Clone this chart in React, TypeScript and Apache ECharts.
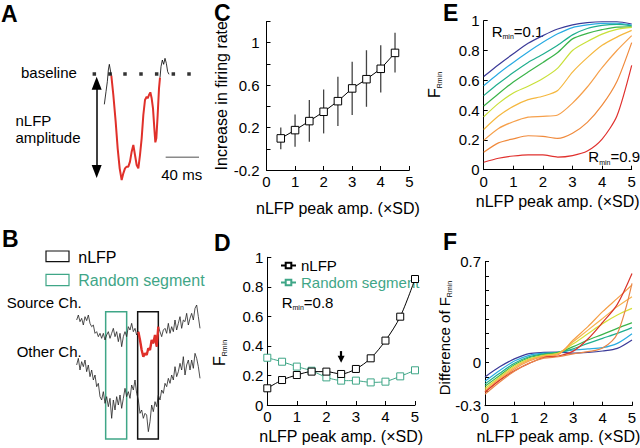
import React, { useEffect, useRef } from 'react';
import * as echarts from 'echarts';

const FONT = '"Liberation Sans", Arial, Helvetica, sans-serif';
const GREEN = '#3fa687';
const RED = '#e0302a';

// ---------- Panel A (time in ms, amplitude in a.u., baseline = 0) ----------
const aPreT = [23.2, 25.2, 26.8, 28, 29.2, 30.4, 31.6];
const aPreV = [-91, -53, -23, 12, 29, 12, -5];
const aNlfpT = [31.6, 34, 36.8, 39.2, 41.6, 44, 46, 48, 50, 52, 54, 56, 58, 60, 62, 64, 66, 68, 70, 72, 74, 75.2, 76.8, 78.4, 80, 81.6, 83.2, 84.4, 85.6, 87.2, 88.8, 90];
const aNlfpV = [-5, -63, -143, -223, -283, -318, -298, -283, -278, -278, -263, -233, -213, -243, -273, -283, -243, -193, -123, -78, -68, -73, -63, -55, -73, -103, -163, -205, -193, -123, -43, -11];
const aPostT = [90, 91.2, 92.8, 94.4, 96, 97.6, 99.2, 100.8];
const aPostV = [-11, 22, 42, 29, 47, 32, 7, -1];
const aBaselineT = [11.2, 30, 48, 67.2, 86, 106, 124.8];
const aScaleBar = [[96.8, -250], [136.8, -250]];
const aArrowT = 14;
const aArrowEnds = [-27.5, -292.5];

// ---------- Panel B (sample index, negativity in a.u.) ----------
const bFirstSample = 4;
const bSource = [60, 45, 65, 55, 75, 50, 62, 45, 70, 80, 75, 100, 95, 110, 100, 115, 100, 120, 105, 95, 115, 100, 85, 110, 95, 125, 100, 140, 110, 95, 110, 80, 90, 70, 95, 85, 105, 95, 120, 150, 170, 160, 165, 145, 150, 120, 130, 105, 140, 80, 95, 110, 90, 85, 100, 70, 100, 80, 95, 60, 90, 70, 50, 85, 60, 65, 40, 75, 55, 40, 60, 25, 15, 50, 85];
const bOther = [195, 175, 210, 185, 200, 180, 215, 195, 230, 210, 240, 225, 260, 250, 290, 300, 275, 310, 290, 320, 295, 355, 300, 330, 290, 315, 285, 325, 295, 265, 290, 275, 295, 255, 270, 240, 280, 300, 340, 330, 355, 340, 345, 395, 365, 315, 335, 305, 320, 285, 300, 270, 280, 250, 260, 235, 250, 225, 240, 200, 230, 215, 190, 210, 170, 225, 195, 180, 210, 180, 205, 160, 175, 200, 235];
const bRedFrom = 37;
const bRedTo = 49;
const bRandomBox = [21.4, 34, 35, 417];
const bNlfpBox = [40.6, 53, 35, 417];

// ---------- Panel C ----------
const cX = [0.5, 1, 1.5, 2, 2.5, 3, 3.5, 4, 4.5];
const cMean = [0.098, 0.176, 0.261, 0.349, 0.449, 0.569, 0.656, 0.754, 0.904];
const cLo = [-0.005, 0.02, 0.067, 0.145, 0.214, 0.318, 0.396, 0.531, 0.719];
const cHi = [0.2, 0.324, 0.459, 0.559, 0.678, 0.82, 0.929, 0.976, 1.093];
const cYLabels = [-0.2, 0.2, 0.6, 1];

// ---------- Panel D ----------
const dX = [0, 0.5, 1, 1.5, 2, 2.5, 3, 3.5, 4, 4.5, 5];
const dNlfp = [0.113, 0.169, 0.203, 0.226, 0.226, 0.21, 0.244, 0.316, 0.436, 0.598, 0.853];
const dRandom = [0.32, 0.293, 0.26, 0.232, 0.187, 0.165, 0.165, 0.153, 0.158, 0.194, 0.235];
const dArrow = [2.5, 0.365, 0.31];

// ---------- Panel E ----------
const eX = [0, 0.5, 1, 1.5, 2, 2.5, 3, 3.5, 4, 4.5, 5];
const eColors = ['#3b3a98', '#29abe2', '#1fae8e', '#3bb44a', '#c9e03a', '#f5b840', '#f6a04b', '#f08a3c', '#e0312e'];
const eR01 = [0.625, 0.705, 0.778, 0.848, 0.9, 0.944, 0.972, 0.987, 0.993, 0.993, 0.978];
const eR02 = [0.563, 0.645, 0.72, 0.79, 0.855, 0.912, 0.954, 0.972, 0.982, 0.983, 0.97];
const eR03 = [0.497, 0.578, 0.652, 0.72, 0.775, 0.835, 0.905, 0.948, 0.968, 0.975, 0.965];
const eR04 = [0.427, 0.51, 0.588, 0.655, 0.72, 0.787, 0.878, 0.915, 0.94, 0.957, 0.958];
const eR05 = [0.355, 0.445, 0.515, 0.56, 0.612, 0.682, 0.8, 0.86, 0.91, 0.942, 0.955];
const eR06 = [0.27, 0.36, 0.425, 0.47, 0.493, 0.532, 0.655, 0.752, 0.835, 0.89, 0.935];
const eR07 = [0.197, 0.277, 0.322, 0.353, 0.358, 0.367, 0.447, 0.555, 0.685, 0.8, 0.9];
const eR08 = [0.117, 0.18, 0.207, 0.228, 0.224, 0.21, 0.245, 0.318, 0.433, 0.592, 0.853];
const eR09 = [0.05, 0.077, 0.092, 0.1, 0.099, 0.085, 0.095, 0.125, 0.205, 0.36, 0.7];

// ---------- Panel F ----------
const fX = [0, 0.5, 1, 1.5, 2, 2.5, 3, 3.5, 4, 4.5, 5];
const fColors = ['#3b3a98', '#29abe2', '#1fae8e', '#3bb44a', '#d6e03a', '#f7b24d', '#f59e45', '#d9342b', '#e8874a'];
const fL1 = [-0.1, -0.03, 0.025, 0.062, 0.07, 0.072, 0.065, 0.07, 0.08, 0.098, 0.156];
const fL2 = [-0.13, -0.055, 0.01, 0.05, 0.065, 0.07, 0.087, 0.094, 0.103, 0.133, 0.2];
const fL3 = [-0.15, -0.075, -0.005, 0.04, 0.06, 0.07, 0.095, 0.133, 0.168, 0.202, 0.242];
const fL4 = [-0.165, -0.09, -0.015, 0.033, 0.055, 0.07, 0.11, 0.156, 0.195, 0.237, 0.276];
const fL5 = [-0.18, -0.1, -0.025, 0.025, 0.05, 0.065, 0.13, 0.2, 0.27, 0.33, 0.376];
const fL6 = [-0.195, -0.11, -0.035, 0.018, 0.045, 0.062, 0.144, 0.225, 0.306, 0.388, 0.457];
const fL7 = [-0.205, -0.12, -0.045, 0.01, 0.04, 0.055, 0.156, 0.249, 0.353, 0.445, 0.538];
const fL8 = [-0.207, -0.124, -0.057, -0.006, 0.035, 0.045, 0.079, 0.163, 0.278, 0.404, 0.618];
const fL9 = [-0.22, -0.135, -0.06, -0.005, 0.03, 0.04, 0.06, 0.075, 0.1, 0.2, 0.55];
const fYLabels = [-0.3, 0, 0.7];

const zip = (xs: number[], ys: number[]) => xs.map((x, i) => [x, ys[i]]);

function axis(gi: number, min: number, max: number, interval: number, extra: any = {}) {
  const base: any = {
    type: 'value', gridIndex: gi, min, max, interval,
    axisLine: { show: true, onZero: false, lineStyle: { color: '#000', width: 1 } },
    axisTick: { show: true, inside: true, length: 4, lineStyle: { color: '#000', width: 1 } },
    axisLabel: { show: true, color: '#000', fontSize: 15, fontFamily: FONT, margin: 4 },
    splitLine: { show: false },
    nameTextStyle: { color: '#000', fontSize: 16, fontFamily: FONT },
  };
  const out = { ...base, ...extra };
  if (extra.axisLabel) out.axisLabel = { ...base.axisLabel, ...extra.axisLabel };
  return out;
}
const hidden = (gi: number, min: number, max: number, extra: any = {}) => ({ type: 'value', gridIndex: gi, min, max, show: false, ...extra });
const onlyLabels = (list: number[]) => (v: number) => {
  const r = Math.round(v * 10);
  return list.some((l) => Math.round(l * 10) === r) ? String(r / 10) : '';
};

const XNAME = 'nLFP peak amp. (×SD)';

function buildOption(): any {
  const grid = [
    { left: 85, top: 55, width: 120, height: 130 },
    { left: 70, top: 300, width: 136, height: 140 },
    { left: 266.5, top: 21.5, width: 142.8, height: 148.5 },
    { left: 267.3, top: 257.3, width: 147.7, height: 147.7 },
    { left: 483.7, top: 20.7, width: 148, height: 149 },
    { left: 485, top: 261.7, width: 147, height: 144 },
  ].map((g) => ({ ...g, outerBoundsMode: 'none', containLabel: false }));

  const xAxis = [
    hidden(0, 0, 144),
    hidden(1, 0, 81.6),
    axis(2, 0, 5, 1, { name: XNAME, nameLocation: 'middle', nameGap: 30 }),
    axis(3, 0, 5, 1, { name: XNAME, nameLocation: 'middle', nameGap: 23 }),
    axis(4, 0, 5, 1, { name: XNAME, nameLocation: 'middle', nameGap: 24 }),
    axis(5, 0, 5, 1, { name: XNAME, nameLocation: 'middle', nameGap: 23 }),
  ];
  const yAxis = [
    hidden(0, -333, 57),
    hidden(1, 0, 420, { inverse: true }),
    axis(2, -0.2, 1.2, 0.2, {
      name: 'Increase in firing rate', nameLocation: 'middle', nameGap: 31, nameRotate: 90,
      axisLabel: { margin: 7, formatter: onlyLabels(cYLabels) },
    }),
    axis(3, 0, 1, 0.2),
    axis(4, 0, 1, 0.2),
    axis(5, -0.3, 0.7, 0.1, { axisLabel: { formatter: onlyLabels(fYLabels) } }),
  ];

  const thin = (color: string, width = 0.8) => ({ color, width });
  const series: any[] = [];

  // Panel A
  series.push({ type: 'line', xAxisIndex: 0, yAxisIndex: 0, data: zip(aPreT, aPreV), symbol: 'none', lineStyle: thin('#000'), z: 3 });
  series.push({ type: 'line', xAxisIndex: 0, yAxisIndex: 0, data: zip(aPostT, aPostV), symbol: 'none', lineStyle: thin('#000'), z: 3 });
  series.push({ type: 'line', xAxisIndex: 0, yAxisIndex: 0, data: zip(aNlfpT, aNlfpV), symbol: 'none', lineStyle: thin(RED, 2), z: 4 });
  series.push({ type: 'scatter', xAxisIndex: 0, yAxisIndex: 0, data: aBaselineT.map((t) => [t, 0]), symbol: 'rect', symbolSize: 3.5, itemStyle: { color: '#000' }, z: 5 });
  series.push({ type: 'line', xAxisIndex: 0, yAxisIndex: 0, data: aScaleBar, symbol: 'none', lineStyle: thin('#8a8a8a', 1.5) });
  series.push({
    type: 'line', xAxisIndex: 0, yAxisIndex: 0, data: [], silent: true,
    markLine: {
      silent: true, symbol: ['triangle', 'triangle'], symbolSize: [10, 13],
      lineStyle: { color: '#000', width: 1.5, type: 'solid' }, label: { show: false },
      data: [[{ coord: [aArrowT, aArrowEnds[0]] }, { coord: [aArrowT, aArrowEnds[1]] }]],
      itemStyle: { color: '#000' },
    },
  });

  // Panel B
  const bIdx = bSource.map((_, i) => bFirstSample + i);
  series.push({ type: 'line', xAxisIndex: 1, yAxisIndex: 1, data: zip(bIdx, bSource), symbol: 'none', lineStyle: thin('#222', 0.8) });
  series.push({ type: 'line', xAxisIndex: 1, yAxisIndex: 1, data: zip(bIdx, bOther), symbol: 'none', lineStyle: thin('#222', 0.8) });
  series.push({
    type: 'line', xAxisIndex: 1, yAxisIndex: 1, symbol: 'none', z: 4,
    data: zip(bIdx.slice(bRedFrom, bRedTo + 1), bSource.slice(bRedFrom, bRedTo + 1)), lineStyle: thin(RED, 2.4),
  });
  series.push({
    type: 'line', xAxisIndex: 1, yAxisIndex: 1, data: [], silent: true,
    markArea: {
      silent: true, label: { show: false },
      data: [
        [{ xAxis: bRandomBox[0], yAxis: bRandomBox[2], itemStyle: { color: 'rgba(0,0,0,0)', borderColor: GREEN, borderWidth: 1.5 } }, { xAxis: bRandomBox[1], yAxis: bRandomBox[3] }],
        [{ xAxis: bNlfpBox[0], yAxis: bNlfpBox[2], itemStyle: { color: 'rgba(0,0,0,0)', borderColor: '#111', borderWidth: 1.5 } }, { xAxis: bNlfpBox[1], yAxis: bNlfpBox[3] }],
      ],
    },
  });

  // Panel C
  series.push({
    type: 'custom', xAxisIndex: 2, yAxisIndex: 2, z: 2,
    data: cX.map((x, i) => [x, cLo[i], cHi[i]]),
    encode: { x: 0, y: [1, 2] },
    renderItem: (_p: any, api: any) => {
      const a = api.coord([api.value(0), api.value(1)]);
      const b = api.coord([api.value(0), api.value(2)]);
      return { type: 'line', shape: { x1: a[0], y1: a[1], x2: b[0], y2: b[1] }, style: { stroke: '#444', lineWidth: 1.3 } };
    },
  });
  series.push({
    type: 'line', xAxisIndex: 2, yAxisIndex: 2, data: zip(cX, cMean), z: 3,
    symbol: 'rect', symbolSize: 7.5, lineStyle: thin('#000', 1),
    itemStyle: { color: '#fff', borderColor: '#000', borderWidth: 1 },
  });

  // Panel D
  series.push({
    name: 'nLFP', type: 'line', xAxisIndex: 3, yAxisIndex: 3, data: zip(dX, dNlfp), smooth: 0.3, z: 4,
    symbol: 'rect', symbolSize: 7, lineStyle: thin('#000', 1), itemStyle: { color: '#fff', borderColor: '#000', borderWidth: 1 },
  });
  series.push({
    name: 'Random segment', type: 'line', xAxisIndex: 3, yAxisIndex: 3, data: zip(dX, dRandom), smooth: 0.2, z: 3,
    symbol: 'rect', symbolSize: 7, lineStyle: thin(GREEN, 1), itemStyle: { color: '#fff', borderColor: GREEN, borderWidth: 1 },
  });
  series.push({
    type: 'line', xAxisIndex: 3, yAxisIndex: 3, data: [], silent: true,
    markLine: {
      silent: true, symbol: ['none', 'triangle'], symbolSize: [7, 7],
      lineStyle: { color: '#000', width: 2.2, type: 'solid' }, label: { show: false },
      itemStyle: { color: '#000' },
      data: [[{ coord: [dArrow[0], dArrow[1]] }, { coord: [dArrow[0], dArrow[2]] }]],
    },
  });

  // Panel E
  [eR01, eR02, eR03, eR04, eR05, eR06, eR07, eR08, eR09].forEach((arr, i) => {
    series.push({
      name: 'E' + (i + 1), type: 'line', xAxisIndex: 4, yAxisIndex: 4, data: zip(eX, arr),
      symbol: 'none', smooth: 0.25, lineStyle: thin(eColors[i], 1.2),
    });
  });

  // Panel F
  [fL1, fL2, fL3, fL4, fL5, fL6, fL7, fL8, fL9].forEach((arr, i) => {
    series.push({
      name: 'F' + (i + 1), type: 'line', xAxisIndex: 5, yAxisIndex: 5, data: zip(fX, arr),
      symbol: 'none', smooth: 0.3, lineStyle: thin(fColors[i], 1.2),
    });
  });

  const txt = (text: string, x: number, y: number, extra: any = {}) => ({
    type: 'text', x, y, silent: true,
    style: { text, fill: '#000', fontSize: 15, fontFamily: FONT, align: 'left', verticalAlign: 'middle', ...extra },
  });
  const letter = (t: string, x: number, y: number) => txt(t, x, y, { fontSize: 23, fontWeight: 'bold' });
  const richR = (fs: number) => ({
    r: { fontSize: fs, fontFamily: FONT, fill: '#000', lineHeight: 18, verticalAlign: 'middle' },
    s: { fontSize: 7, fontFamily: FONT, fill: '#000', lineHeight: 10, verticalAlign: 'bottom' },
  });
  const rAnn = (val: string, x: number, y: number) => ({
    type: 'text', x, y, silent: true,
    style: { text: `{r|R}{s|min}{r|=${val}}`, rich: richR(15), align: 'left', verticalAlign: 'middle' },
  });
  const yTitle = (main: string, x: number, y: number, fs: number) => ({
    type: 'text', x, y, rotation: Math.PI / 2, silent: true,
    style: { text: `{r|${main}}{s|Rmin}`, rich: richR(fs), align: 'center', verticalAlign: 'middle' },
  });

  const graphic = {
    elements: [
      letter('A', 1, 13.5), letter('B', 2, 239), letter('C', 214, 13), letter('D', 214, 242.5), letter('E', 443, 13), letter('F', 443, 242),
      txt('baseline', 21, 72.7),
      txt('nLFP', 15.5, 120),
      txt('amplitude', 15.5, 137),
      txt('40 ms', 181.7, 174, { align: 'center' }),
      { type: 'rect', silent: true, shape: { x: 46, y: 251, width: 23, height: 10.7 }, style: { fill: 'none', stroke: '#111', lineWidth: 1.2 } },
      { type: 'rect', silent: true, shape: { x: 46, y: 274.3, width: 23, height: 11.4 }, style: { fill: 'none', stroke: GREEN, lineWidth: 1.2 } },
      txt('nLFP', 78.3, 257, { fontSize: 16 }),
      txt('Random segment', 78.3, 280.7, { fontSize: 16, fill: GREEN }),
      txt('Source Ch.', 81.7, 302.7, { align: 'right' }),
      txt('Other Ch.', 81.7, 351, { align: 'right' }),
      rAnn('0.1', 491.7, 31),
      rAnn('0.9', 588.3, 156.7),
      rAnn('0.8', 281.7, 302),
      yTitle('F', 434, 85, 16),
      yTitle('F', 219, 353, 16),
      yTitle('Difference of F', 444, 338, 15),
    ],
  };

  return {
    animation: false,
    backgroundColor: '#fff',
    textStyle: { fontFamily: FONT },
    grid, xAxis, yAxis, series, graphic,
    legend: {
      show: true, selectedMode: false, orient: 'vertical', left: 280, top: 258, padding: 0,
      itemWidth: 15, itemHeight: 7, itemGap: 2,
      textStyle: { fontSize: 15, fontFamily: FONT },
      data: [
        { name: 'nLFP', textStyle: { color: '#000' } },
        { name: 'Random segment', textStyle: { color: GREEN } },
      ],
    },
  };
}

export default function App() {
  const ref = useRef<HTMLDivElement>(null);
  useEffect(() => {
    if (!ref.current) return;
    const chart = echarts.init(ref.current, null, { renderer: 'svg' });
    chart.setOption(buildOption());
    return () => chart.dispose();
  }, []);
  return <div ref={ref} style={{ position: 'absolute', left: 0, top: 0, width: 640, height: 448, background: '#fff' }} />;
}
